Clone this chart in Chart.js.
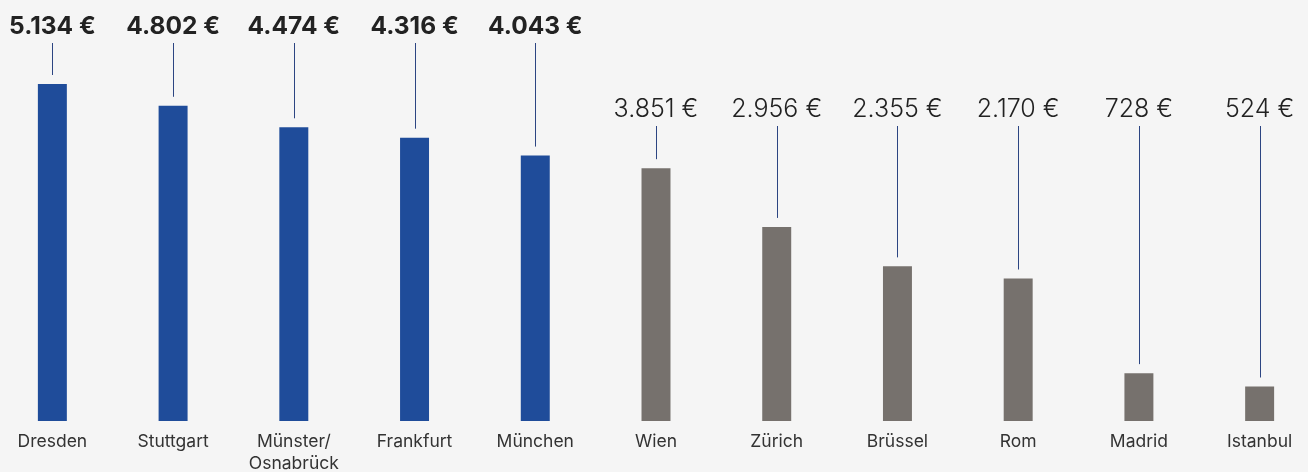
<!DOCTYPE html>
<html>
<head>
<meta charset="utf-8">
<script src="https://cdn.jsdelivr.net/npm/chart.js@4"></script>
<style>
  html, body { margin: 0; padding: 0; background: #f5f5f5; overflow: hidden; }
  .wrap { position: relative; left: -8px; width: 1328px; height: 472px; }
</style>
</head>
<body>
<div class="wrap"><canvas id="myChart"></canvas></div>
<script>
const cities = ['Dresden', 'Stuttgart', ['Münster/', 'Osnabrück'], 'Frankfurt', 'München',
  'Wien', 'Zürich', 'Brüssel', 'Rom', 'Madrid', 'Istanbul']
const amounts = [5134, 4802, 4474, 4316, 4043, 3851, 2956, 2355, 2170, 728, 524]
const valueLabels = ['5.134 €', '4.802 €', '4.474 €', '4.316 €', '4.043 €',
  '3.851 €', '2.956 €', '2.355 €', '2.170 €', '728 €', '524 €']
const german = [true, true, true, true, true, false, false, false, false, false, false]

const BLUE = '#1f4c9a'
const GREY = '#76716d'

// value labels with a thin leader line down to each bar
const leaderLabels = {
  id: 'leaderLabels',
  afterDatasetsDraw(chart) {
    const ctx = chart.ctx
    const bars = chart.getDatasetMeta(0).data
    ctx.save()
    bars.forEach((bar, i) => {
      const baseY = german[i] ? 34 : 117
      ctx.font = german[i] ? '700 24.5px Inter' : '300 25px Inter'
      ctx.fillStyle = '#222222'
      ctx.textAlign = 'center'
      ctx.textBaseline = 'alphabetic'
      ctx.fillText(valueLabels[i], bar.x, baseY)

      ctx.strokeStyle = '#2c4582'
      ctx.lineWidth = 1
      ctx.beginPath()
      const x = Math.round(bar.x) + 0.5
      ctx.moveTo(x, baseY + 9)
      ctx.lineTo(x, bar.y - 9)
      ctx.stroke()
    })
    ctx.restore()
  }
}

new Chart(document.getElementById('myChart'), {
  type: 'bar',
  data: {
    labels: cities,
    datasets: [{
      data: amounts,
      backgroundColor: german.map(g => g ? BLUE : GREY),
      barPercentage: 0.24,
      categoryPercentage: 1
    }]
  },
  options: {
    responsive: true,
    maintainAspectRatio: false,
    animation: false,
    layout: { padding: { top: 84, left: 0, right: 0, bottom: -13 } },
    plugins: { legend: { display: false }, tooltip: { enabled: false } },
    scales: {
      x: {
        grid: { display: false, drawTicks: false },
        border: { display: false },
        ticks: {
          color: '#333333',
          font: { family: 'Inter', size: 17.5, weight: 400, lineHeight: 1.26 },
          padding: 10,
          maxRotation: 0,
          autoSkip: false
        }
      },
      y: {
        display: false,
        min: 0,
        max: 5134
      }
    }
  },
  plugins: [leaderLabels]
})
</script>
</body>
</html>
